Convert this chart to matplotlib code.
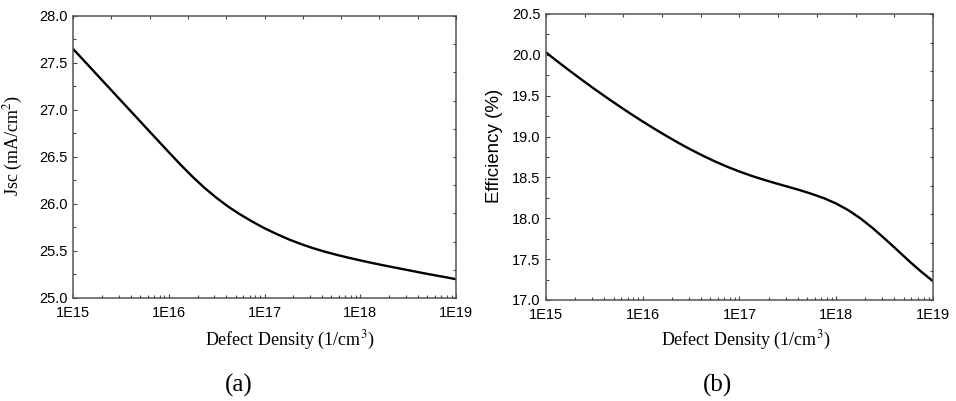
import numpy as np
import matplotlib
matplotlib.use("Agg")
import matplotlib.pyplot as plt
from matplotlib.ticker import FixedLocator, MultipleLocator, NullFormatter, LogLocator

# --- data (x as log10 of defect density, 1/8 decade steps) ---
exponents = [15.0, 15.125, 15.25, 15.375, 15.5, 15.625, 15.75, 15.875,
             16.0, 16.125, 16.25, 16.375, 16.5, 16.625, 16.75, 16.875,
             17.0, 17.125, 17.25, 17.375, 17.5, 17.625, 17.75, 17.875,
             18.0, 18.125, 18.25, 18.375, 18.5, 18.625, 18.75, 18.875, 19.0]
jsc = [27.650, 27.513, 27.375, 27.238, 27.100, 26.963, 26.825, 26.688,
       26.551, 26.416, 26.288, 26.170, 26.064, 25.969, 25.886, 25.811,
       25.742, 25.681, 25.625, 25.576, 25.532, 25.494, 25.460, 25.429,
       25.400, 25.372, 25.346, 25.321, 25.296, 25.271, 25.247, 25.224, 25.200]
eff = [20.030, 19.914, 19.801, 19.691, 19.583, 19.479, 19.378, 19.279,
       19.184, 19.092, 19.004, 18.919, 18.839, 18.764, 18.694, 18.630,
       18.572, 18.519, 18.472, 18.428, 18.386, 18.344, 18.297, 18.245,
       18.180, 18.099, 17.999, 17.882, 17.752, 17.617, 17.480, 17.350, 17.230]

xticks = [1e15, 1e16, 1e17, 1e18, 1e19]
xticklabels = ["1E15", "1E16", "1E17", "1E18", "1E19"]

defect = 10.0 ** np.array(exponents)

sans = "Liberation Sans"
serif = "Liberation Serif"
plt.rcParams["mathtext.fontset"] = "stix"

fig = plt.figure(figsize=(9.56, 4.01), dpi=100)
pos1 = [0.0764, 0.2569, 0.4006, 0.7032]
pos2 = [0.5711, 0.2519, 0.4048, 0.7132]
ax1 = fig.add_axes(pos1)
ax2 = fig.add_axes(pos2)


def style(ax, pos, ylim):
    ax.set_xscale("log")
    ax.set_xlim(1e15, 1e19)
    ax.set_ylim(*ylim)
    ax.xaxis.set_major_locator(FixedLocator(xticks))
    ax.set_xticklabels(xticklabels, fontfamily=sans, fontsize=10.5)
    ax.xaxis.set_minor_locator(LogLocator(base=10, subs=np.arange(2, 10)))
    ax.xaxis.set_minor_formatter(NullFormatter())
    ax.yaxis.set_major_locator(MultipleLocator(0.5))
    ax.yaxis.set_minor_locator(MultipleLocator(0.25))
    ax.yaxis.set_major_formatter(plt.FormatStrFormatter("%.1f"))
    for lab in ax.get_yticklabels():
        lab.set_fontfamily(sans)
        lab.set_fontsize(10.5)
    ax.tick_params(which="both", direction="in", top=False, right=False,
                   width=0.8, color="#444444")
    ax.tick_params(which="major", length=3)
    ax.tick_params(which="minor", length=2)
    ax.tick_params(axis="x", pad=6)
    ax.tick_params(axis="y", pad=4)
    for sp in ax.spines.values():
        sp.set_color("#555555")
        sp.set_linewidth(1.1)
    # top and right edges carry ten even divisions without labels
    over = fig.add_axes(pos, frameon=False)
    over.set_xlim(0, 10)
    over.set_ylim(0, 10)
    over.set_xticks(range(11))
    over.set_yticks(range(11))
    over.tick_params(direction="in", bottom=False, left=False, top=True, right=True,
                     labelbottom=False, labelleft=False, length=2.5, width=0.8,
                     color="#444444")
    over.patch.set_alpha(0)


ax1.plot(defect, jsc, color="black", lw=1.7, solid_joinstyle="round")
style(ax1, pos1, (25.0, 28.0))
ax1.set_ylabel(r"Jsc (mA/cm$^2$)", fontfamily=serif, fontsize=13)
ax1.yaxis.set_label_coords(-0.125, 0.54)

ax2.plot(defect, eff, color="black", lw=1.7, solid_joinstyle="round")
style(ax2, pos2, (17.0, 20.5))
ax2.set_ylabel("Efficiency (%)", fontfamily=sans, fontsize=13.5)
ax2.yaxis.set_label_coords(-0.111, 0.54)

fig.text(0.3028, 0.152, r"Defect Density (1/cm$^3$)", fontfamily=serif, fontsize=13,
         ha="center", va="center")
fig.text(0.7803, 0.150, r"Defect Density (1/cm$^3$)", fontfamily=serif, fontsize=13,
         ha="center", va="center")

fig.text(0.25, 0.038, "(a)", fontfamily=serif, fontsize=18, ha="center", va="center")
fig.text(0.751, 0.038, "(b)", fontfamily=serif, fontsize=18, ha="center", va="center")

fig.savefig("out.png", dpi=100)
